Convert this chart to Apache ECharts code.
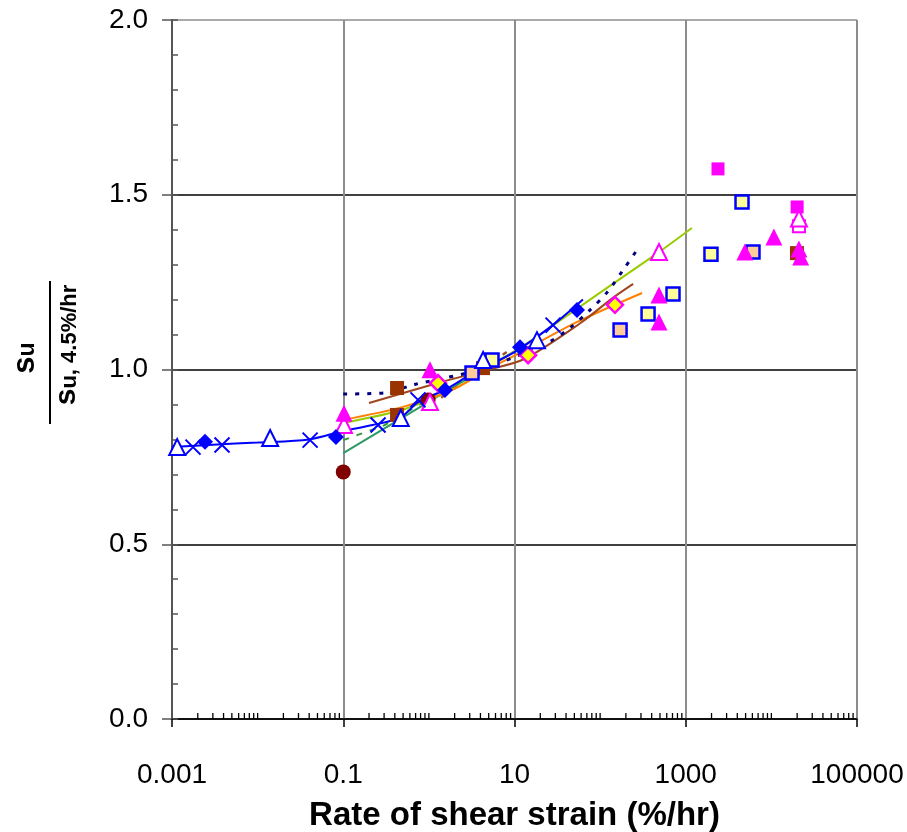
<!DOCTYPE html>
<html>
<head>
<meta charset="utf-8">
<script src="https://cdn.jsdelivr.net/npm/echarts@6/dist/echarts.min.js"></script>
<style>
html,body{margin:0;padding:0;background:#fff;}
#chart{width:907px;height:832px;}
</style>
</head>
<body>
<div id="chart"></div>
<script>
// ---------- axis tick labels ----------
const xTickLabels = {'-3':'0.001','-1':'0.1','1':'10','3':'1000','5':'100000'};
const yTickLabels = ['0.0','0.5','1.0','1.5','2.0'];
const xMinorTickValues = [];
for (let e = -3; e < 5; e++) { for (let m = 1; m <= 9; m++) { if (m > 1 || e % 2 === 0) xMinorTickValues.push(m * Math.pow(10, e)); } }

// ---------- fitted / trend lines [rate %/hr, su/su4.5] ----------
const blueLine   = [[0.001,0.778],[0.003,0.785],[0.01,0.791],[0.04,0.800],[0.1,0.824],[0.22,0.841],[0.46,0.862],[0.78,0.910],[1.5,0.940],[3.3,0.990],[10,1.050],[28,1.127],[63,1.200]];
const navyDotted = [[0.1,0.930],[0.3,0.933],[0.7,0.958],[1.5,0.975],[4,1.000],[11,1.040],[26,1.080],[45,1.120],[76,1.170],[120,1.220],[186,1.285],[275,1.345]];
const brownLine  = [[0.2,0.904],[1.3,0.962],[4.5,0.997],[13,1.030],[59,1.133],[141,1.205],[243,1.245]];
const orangeLine = [[0.1,0.856],[0.5,0.893],[2,0.945],[4.5,0.995],[10,1.040],[54,1.136],[309,1.219]];
const limeLine   = [[0.1,0.847],[0.5,0.885],[2,0.945],[4.5,0.998],[18,1.093],[100,1.220],[487,1.336],[1180,1.405]];
const seaLine    = [[0.1,0.761],[3.3,0.984],[10,1.052]];
const greenDash  = [[0.1,0.798],[0.3,0.840],[1,0.915],[3,0.980]];
const brownDash  = [[1.0,0.895],[2.1,0.950],[8.1,1.050]];

// ---------- measured points ----------
const blueTriangles   = [[0.00115,0.778],[0.014,0.804],[0.47,0.861],[4.3,1.027],[18.3,1.084]];
const blueCrosses     = [[0.00176,0.778],[0.00384,0.784],[0.041,0.798],[0.255,0.841],[0.746,0.913],[28.2,1.127]];
const blueDiamonds    = [[0.00243,0.793],[0.0822,0.807],[1.54,0.941],[11.6,1.064],[53.7,1.170]];
const maroonCircles   = [[0.1,0.707],[0.98,0.913]];
const brownSquares    = [[0.425,0.947],[0.425,0.870],[4.29,1.004],[19900,1.333]];
const magentaTriFill  = [[0.102,0.875],[1.03,0.999],[487,1.213],[487,1.136],[4900,1.336],[10700,1.379],[21000,1.345],[22000,1.322]];
const magentaTriOpen  = [[0.102,0.841],[1.03,0.907],[487,1.336],[21000,1.432]];
const magentaSqFill   = [[2380,1.574],[20000,1.465]];
const magentaSqOpen   = [[21000,1.410]];
const yellowSquares   = [[5.46,1.027],[363,1.159],[710,1.216],[1970,1.330],[4540,1.479]];
const peachSquares    = [[3.19,0.990],[171,1.113],[6100,1.336]];
const yellowDiamonds  = [[1.28,0.961],[14.4,1.041],[149,1.185]];

const FONT = '"Liberation Sans", Arial, sans-serif';
const crossPath = 'path://M0,0L10,10M10,0L0,10';

function lineSeries(data, color, type, width, smooth) {
  return { type:'line', data:data, showSymbol:false, symbol:'none', smooth:smooth||0, z:2,
           lineStyle:{color:color, width:width, type:type}, silent:true };
}
function scatter(data, symbol, size, fill, border, bw, z) {
  return { type:'scatter', data:data, symbol:symbol, symbolSize:size, z:z||5, silent:true,
           itemStyle:{color:fill, borderColor:border, borderWidth:bw, opacity:1} };
}

const chart = echarts.init(document.getElementById('chart'), null, {renderer:'canvas'});
chart.setOption({
  animation:false,
  backgroundColor:'#fff',
  grid:{left:172, right:50, top:20, bottom:113, containLabel:false, outerBoundsMode:'none'},
  xAxis:[{
    type:'log', logBase:10, min:0.001, max:100000, interval:2,
    axisLine:{show:true, onZero:false, lineStyle:{color:'#000', width:1.5}},
    axisTick:{show:true, inside:false, length:8, lineStyle:{color:'#000', width:1.5}},
    axisLabel:{fontSize:28, fontFamily:FONT, color:'#000', margin:42,
      formatter:function(v){ return xTickLabels[String(Math.round(Math.log10(v)))] || ''; }},
    splitLine:{show:true, lineStyle:{color:'#8c8c8c', width:2}},
    minorTick:{show:false}, minorSplitLine:{show:false},
    name:'Rate of shear strain (%/hr)', nameLocation:'middle', nameGap:80,
    nameTextStyle:{fontSize:33, fontWeight:'bold', fontFamily:FONT, color:'#000'}
  }],
  yAxis:[{
    type:'value', min:0, max:2, interval:0.5,
    axisLine:{show:true, lineStyle:{color:'#555', width:2}},
    axisTick:{show:true, inside:false, length:10, lineStyle:{color:'#555', width:1.5}},
    axisLabel:{fontSize:28, fontFamily:FONT, color:'#000', margin:24,
      formatter:function(v){ return yTickLabels[Math.round(v/0.5)]; }},
    splitLine:{show:true, lineStyle:{color:['#000','#000','#000','#000','#8c8c8c'], width:1.5}}
  },{
    type:'value', min:0, max:2, interval:0.1, position:'left',
    axisLine:{show:false}, axisLabel:{show:false}, splitLine:{show:false},
    axisTick:{show:true, inside:true, length:6, lineStyle:{color:'#555', width:1.5}}
  }],
  graphic:[
    {type:'text', x:25, y:358, rotation:Math.PI/2,
     style:{text:'{s|s}{u|u}', textAlign:'center', textVerticalAlign:'middle', fill:'#000',
       rich:{s:{fontSize:31, fontWeight:'bold', fontFamily:FONT}, u:{fontSize:23, fontWeight:'bold', fontFamily:FONT, padding:[6,0,0,0]}}}},
    {type:'line', shape:{x1:50, y1:281, x2:50, y2:424}, style:{stroke:'#000', lineWidth:2}},
    {type:'text', x:67, y:345, rotation:Math.PI/2,
     style:{text:'{s|s}{u|u, 4.5%/hr}', textAlign:'center', textVerticalAlign:'middle', fill:'#000',
       rich:{s:{fontSize:30, fontWeight:'bold', fontFamily:FONT}, u:{fontSize:22, fontWeight:'bold', fontFamily:FONT, padding:[6,0,0,0]}}}}
  ],
  series:[
    { type:'custom', data:xMinorTickValues.map(function(v){return [v,0];}), z:10, silent:true, clip:false,
      renderItem:function(params, api){
        const p = api.coord([api.value(0), 0]);
        return {type:'line', shape:{x1:p[0], y1:p[1], x2:p[0], y2:p[1]-6}, style:{stroke:'#000', lineWidth:1.3}};
      }},
    lineSeries(seaLine, '#2e9966', 'solid', 2, 0),
    lineSeries(greenDash, '#339933', [6,8], 2, 0),
    lineSeries(brownDash, '#a0522d', [5,10], 2.5, 0),
    lineSeries(limeLine, '#99cc00', 'solid', 2, 0.2),
    lineSeries(orangeLine, '#ff8000', 'solid', 2, 0.3),
    lineSeries(brownLine, '#a0461e', 'solid', 2, 0.3),
    lineSeries(navyDotted, '#000080', [4,8], 3, 0.3),
    lineSeries(blueLine, '#0000ff', 'solid', 2, 0.3),
    scatter(maroonCircles, 'circle', 15, '#800000', '#800000', 0),
    scatter(brownSquares, 'rect', 14, '#993300', '#993300', 0),
    scatter(magentaSqFill, 'rect', 13, '#ff00ff', '#ff00ff', 0),
    scatter(magentaSqOpen, 'rect', 12, '#ffffff', '#ff00ff', 2),
    scatter(peachSquares, 'rect', 13, '#ffcc99', '#0000ff', 2.5),
    scatter(yellowSquares, 'rect', 13, '#ffff99', '#0000ff', 2.5),
    scatter(yellowDiamonds, 'diamond', 16, '#ffff00', '#ff00ff', 2.5),
    scatter(magentaTriOpen, 'triangle', 16, '#ffffff', '#ff00ff', 2),
    scatter(magentaTriFill, 'triangle', 17, '#ff00ff', '#ff00ff', 0),
    scatter(blueTriangles, 'triangle', 16, '#ffffff', '#0000ff', 2),
    scatter(blueDiamonds, 'diamond', 16, '#0000ff', '#0000ff', 0),
    scatter(blueCrosses, crossPath, 15, 'rgba(0,0,0,0)', '#0000ff', 2)
  ]
});
</script>
</body>
</html>
